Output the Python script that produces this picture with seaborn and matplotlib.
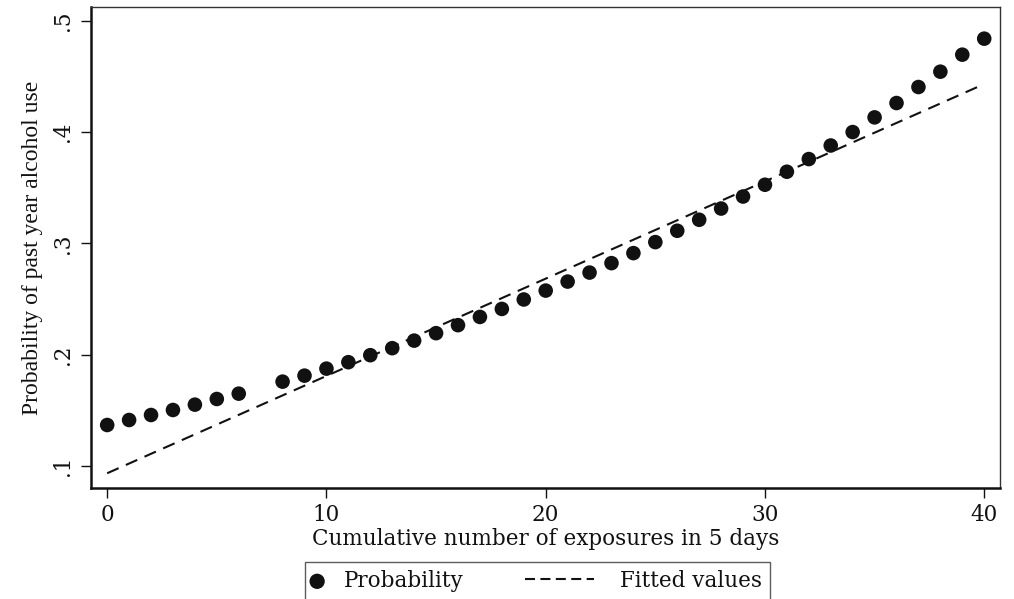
import matplotlib
matplotlib.use("Agg")
import matplotlib.pyplot as plt
import seaborn as sns
import pandas as pd
from matplotlib.lines import Line2D
from matplotlib.legend_handler import HandlerPathCollection, HandlerLine2D

# Data
exposures = [0, 1, 2, 3, 4, 5, 6, 8, 9, 10, 11, 12, 13, 14, 15, 16, 17, 18, 19, 20,
             21, 22, 23, 24, 25, 26, 27, 28, 29, 30, 31, 32, 33, 34, 35, 36, 37, 38, 39, 40]
probability = [0.1366, 0.1411, 0.1456, 0.1501, 0.1549, 0.1600, 0.1648, 0.1756, 0.1810, 0.1873,
               0.1931, 0.1994, 0.2057, 0.2125, 0.2192, 0.2264, 0.2338, 0.2410, 0.2495, 0.2575,
               0.2656, 0.2737, 0.2822, 0.2912, 0.3011, 0.3113, 0.3212, 0.3313, 0.3421, 0.3527,
               0.3644, 0.3758, 0.3880, 0.4001, 0.4133, 0.4262, 0.4406, 0.4544, 0.4697, 0.4841]
fit_x = [0, 40]
fit_y = [0.0932, 0.4433]

x_ticks = [0, 10, 20, 30, 40]
y_ticks = [0.1, 0.2, 0.3, 0.4, 0.5]
y_ticklabels = [".1", ".2", ".3", ".4", ".5"]

sns.set_style("white")
plt.rcParams["font.family"] = ["DejaVu Serif"]

FS = 15.5
DASH = (0, (6, 3.8))
LEG_DASH = (0, (4.8, 2.6))

fig = plt.figure(figsize=(10.14, 5.99), dpi=100)
ax = fig.add_axes([0.0897, 0.1858, 0.8965, 0.802])

pts = pd.DataFrame({"x": exposures, "y": probability})
fit = pd.DataFrame({"x": fit_x, "y": fit_y})

sns.scatterplot(data=pts, x="x", y="y", ax=ax, color="#111111", s=110,
                edgecolor="none", label="Probability", zorder=3)
sns.lineplot(data=fit, x="x", y="y", ax=ax, color="#111111", linewidth=1.5,
             label="Fitted values", zorder=2)
ax.lines[0].set_linestyle(DASH)

ax.set_xlim(-0.74, 40.72)
ax.set_ylim(0.0802, 0.5123)
ax.set_xticks(x_ticks)
ax.set_xticklabels([str(t) for t in x_ticks])
ax.set_yticks(y_ticks)
ax.set_yticklabels(y_ticklabels, rotation=90, va="center")

for side in ["left", "bottom"]:
    ax.spines[side].set_linewidth(1.8)
    ax.spines[side].set_color("#111111")
for side in ["top", "right"]:
    ax.spines[side].set_linewidth(1.0)
    ax.spines[side].set_color("#333333")

ax.tick_params(axis="both", direction="out", length=7, width=1.0, color="#111111",
               labelsize=FS, labelcolor="#111111")
ax.tick_params(axis="x", pad=5)
ax.tick_params(axis="y", pad=5)
ax.tick_params(left=True, bottom=True)

ax.set_xlabel("Cumulative number of exposures in 5 days", fontsize=FS,
              color="#111111", labelpad=1.5)
ax.set_ylabel("Probability of past year alcohol use", fontsize=17,
              family="Liberation Serif", color="#111111", labelpad=7)


class LeftMarkerHandler(HandlerPathCollection):
    def get_xdata(self, legend, xdescent, ydescent, width, height, fontsize):
        xm = [-xdescent + 3.0]
        return xm, xm


class LongDashHandler(HandlerLine2D):
    def create_artists(self, legend, orig_handle, xdescent, ydescent,
                       width, height, fontsize, trans):
        y = height / 2 - ydescent
        ln = Line2D([-xdescent - 46, -xdescent + 3.6], [y, y],
                    color="#111111", linewidth=1.5, linestyle=LEG_DASH)
        ln.set_transform(trans)
        return [ln]


handles, labels = ax.get_legend_handles_labels()
hmap = {}
for h in handles:
    if isinstance(h, Line2D):
        hmap[h] = LongDashHandler()
    else:
        hmap[h] = LeftMarkerHandler(numpoints=1)

leg = ax.legend(handles, labels, handler_map=hmap,
                loc="upper left", bbox_to_anchor=(305 / 1014, 1 - 562 / 599),
                bbox_transform=fig.transFigure, ncol=2, frameon=True,
                fontsize=FS, handlelength=1.12, columnspacing=5.8,
                handletextpad=0.33, borderpad=0.37, borderaxespad=0,
                fancybox=False, markerscale=1.05)
leg.get_frame().set_edgecolor("#333333")
leg.get_frame().set_linewidth(1.0)
for t in leg.get_texts():
    t.set_color("#111111")

fig.savefig("out.png", dpi=100)
